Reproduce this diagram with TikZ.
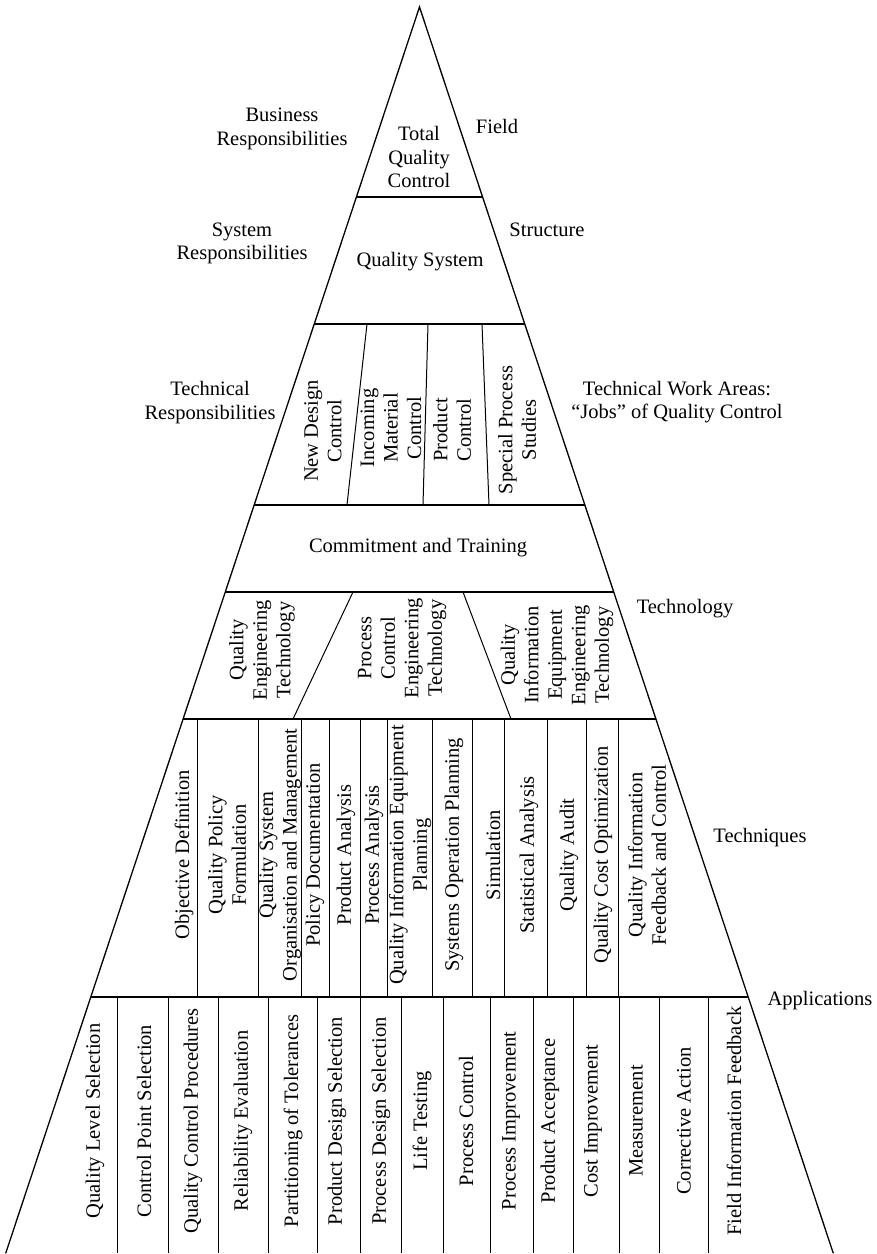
\documentclass[tikz,border=0pt]{standalone}
\usepackage{fontspec}
\setmainfont{Liberation Serif}
\newcommand\mysize{\fontsize{20.5}{23.5}\selectfont}
\tikzset{
  edgeline/.style={line width=1.3pt, line cap=round},
  bandline/.style={line width=1.8pt},
  divline/.style={line width=1pt},
  txt/.style={font=\mysize, align=center, inner sep=0pt},
  vtxt/.style={txt, rotate=90},
}
\begin{document}
\begin{tikzpicture}[x=1pt, y=-1pt]
\fill[white] (0,0) rectangle (877,1254);
\useasboundingbox (0,0) rectangle (877,1254);
% triangle
\coordinate (A) at (419.5,7);
\coordinate (BL) at (5.8,1253);
\coordinate (BR) at (833.2,1253);
\draw[edgeline] (BL) -- (A) -- (BR);
% band lines
\coordinate (L1l) at (356.4,197); \coordinate (L1r) at (482.6,197);
\coordinate (L2l) at (314.3,324); \coordinate (L2r) at (524.7,324);
\coordinate (L3l) at (254.2,505); \coordinate (L3r) at (584.8,505);
\coordinate (L4l) at (225.3,592); \coordinate (L4r) at (613.7,592);
\coordinate (L5l) at (183.1,719); \coordinate (L5r) at (655.9,719);
\coordinate (L6l) at (90.8,997);  \coordinate (L6r) at (748.2,997);
\foreach \n in {1,...,6} {\draw[bandline] (L\n l) -- (L\n r);}
% technical dividers
\coordinate (d1t) at (367,324); \coordinate (d1b) at (347,505);
\coordinate (d2t) at (428,324); \coordinate (d2b) at (423,505);
\coordinate (d3t) at (482,324); \coordinate (d3b) at (489,505);
\foreach \n in {1,2,3} {\draw[divline] (d\n t) -- (d\n b);}
% technology dividers
\coordinate (t1t) at (353,592); \coordinate (t1b) at (293,719);
\coordinate (t2t) at (463,592); \coordinate (t2b) at (511,719);
\foreach \n in {1,2} {\draw[divline] (t\n t) -- (t\n b);}
% techniques verticals
\foreach \x in {197,258,301,329,360,387,432,472,504,547,586,618}
  {\draw[divline] (\x,719) -- (\x,997);}
% applications verticals
\foreach \x in {117,168,218,268,317,360,401,443,490,533,573,619,659,708}
  {\draw[divline] (\x,997) -- (\x,1253);}

% outside labels
\node[txt] (busr) at (282,129) {Business\\Responsibilities};
\node[txt] (field) at (497,126) {Field};
\node[txt] (sysr) at (242,243.5) {System\\Responsibilities};
\node[txt] (struct) at (547,230) {Structure};
\node[txt] (techr) at (210,402.5) {Technical\\Responsibilities};
\node[txt] (twa) at (677,402) {Technical Work Areas:\\“Jobs” of Quality Control};
\node[txt] (techn) at (685,609) {Technology};
\node[txt] (techq) at (760,838) {Techniques};
\node[txt] (appl) at (820,1001) {Applications};

% inside
\node[txt] (tqc) at (419,157) {Total\\Quality\\Control};
\node[txt] (qs) at (420,262) {Quality System};
\node[txt] (cat) at (418,548) {Commitment and Training};

\node[vtxt] (ndc) at (323,431) {New Design\\Control};
\node[vtxt] (imc) at (391,428) {Incoming\\Material\\Control};
\node[vtxt] (pc) at (452,430) {Product\\Control};
\node[vtxt] (sps) at (517,430) {Special Process\\Studies};

\node[vtxt] (qet) at (262,650) {Quality\\Engineering\\Technology};
\node[vtxt] (pcet) at (402,648) {Process\\Control\\Engineering\\Technology};
\node[vtxt] (qieet) at (557,655) {Quality\\Information\\Equipment\\Engineering\\Technology};

% techniques
\node[vtxt] (k1) at (184,855) {Objective Definition};
\node[vtxt] (k2) at (227,855) {Quality Policy\\Formulation};
\node[vtxt] (k3) at (280,855) {Quality System\\Organisation and Management};
\node[vtxt] (k4) at (315,855) {Policy Documentation};
\node[vtxt] (k5) at (346,855) {Product Analysis};
\node[vtxt] (k6) at (374,855) {Process Analysis};
\node[vtxt] (k7) at (410,855) {Quality Information Equipment\\Planning};
\node[vtxt] (k8) at (454,855) {Systems Operation Planning};
\node[vtxt] (k9) at (493,855) {Simulation};
\node[vtxt] (k10) at (529,855) {Statistical Analysis};
\node[vtxt] (k11) at (569,855) {Quality Audit};
\node[vtxt] (k12) at (603,855) {Quality Cost Optimization};
\node[vtxt] (k13) at (647,855) {Quality Information\\Feedback and Control};

% applications
\node[vtxt] (a1) at (95,1121) {Quality Level Selection};
\node[vtxt] (a2) at (144,1121) {Control Point Selection};
\node[vtxt] (a3) at (193,1121) {Quality Control Procedures};
\node[vtxt] (a4) at (243,1121) {Reliability Evaluation};
\node[vtxt] (a5) at (293,1121) {Partitioning of Tolerances};
\node[vtxt] (a6) at (337,1121) {Product Design Selection};
\node[vtxt] (a7) at (381,1121) {Process Design Selection};
\node[vtxt] (a8) at (422,1121) {Life Testing};
\node[vtxt] (a9) at (466,1121) {Process Control};
\node[vtxt] (a10) at (511,1121) {Process Improvement};
\node[vtxt] (a11) at (550,1121) {Product Acceptance};
\node[vtxt] (a12) at (593,1121) {Cost Improvement};
\node[vtxt] (a13) at (636,1121) {Measurement};
\node[vtxt] (a14) at (684,1121) {Corrective Action};
\node[vtxt] (a15) at (734,1121) {Field Information Feedback};
\end{tikzpicture}
\end{document}
